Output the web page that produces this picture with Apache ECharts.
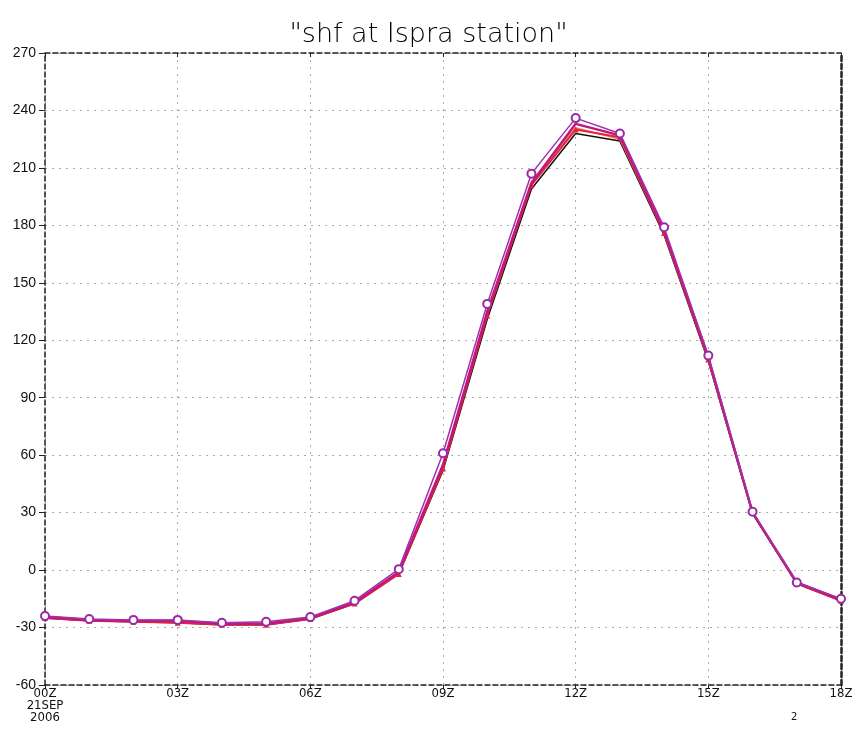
<!DOCTYPE html>
<html>
<head>
<meta charset="utf-8">
<script src="https://cdn.jsdelivr.net/npm/echarts@6/dist/echarts.min.js"></script>
<style>
  html, body { margin: 0; padding: 0; background: #fff; }
  #chart { width: 857px; height: 736px; }
</style>
</head>
<body>
<div id="chart"></div>
<script>
// Hourly sensible heat flux at Ispra, 21 SEP 2006 (00Z-18Z)
const hours = [0, 1, 2, 3, 4, 5, 6, 7, 8, 9, 10, 11, 12, 13, 14, 15, 16, 17, 18];
const tickLabels = ['00Z\n21SEP\n2006', '03Z', '06Z', '09Z', '12Z', '15Z', '18Z'];

const shfBlack   = [-25, -26.5, -27, -27.5, -28.5, -28.5, -25.5, -17.5, -2, 52, 131, 199, 228, 224, 175, 109, 29.5, -7, -16];
const shfOrange  = [-24.5, -26, -26.5, -27, -28, -28, -25, -17, -1.5, 54, 134, 203, 231, 225, 176, 110, 30, -6.5, -15.5];
const shfRed     = [-25, -26.5, -27, -27.5, -28.5, -28.5, -25.5, -17.5, -2, 53, 133, 201, 230, 226, 176, 110, 30, -7, -16];
const shfMagenta = [-24.5, -26, -26.5, -26.5, -28, -28, -25, -17, -1, 55, 135, 202, 233, 227, 177, 111, 30, -6.5, -15.5];
const shfPurple  = [-24, -25.5, -26, -26, -27.5, -27, -24.5, -16, 0.5, 61, 139, 207, 236, 228, 179, 112, 30.5, -6.5, -15];

const pairs = arr => hours.map((h, i) => [h, arr[i]]);

const chart = echarts.init(document.getElementById('chart'));
const narrowFont = '"Liberation Sans Narrow", "DejaVu Sans Condensed", "Liberation Sans", sans-serif';
const frame = (w) => ({ show: true, onZero: false, lineStyle: { color: '#222', width: w, type: [5, 3] } });
const gridDots = { show: true, lineStyle: { color: '#aaa', type: [2, 5] } };

chart.setOption({
  animation: false,
  backgroundColor: '#fff',
  title: {
    text: '"shf at Ispra station"',
    left: 'center',
    top: 16,
    textStyle: { fontFamily: '"DejaVu Sans", sans-serif', fontWeight: 'lighter', fontSize: 27, color: '#000' }
  },
  grid: { left: 45, right: 16, top: 53, bottom: 51 },
  xAxis: [{
    type: 'value', min: 0, max: 18, interval: 3, position: 'bottom',
    axisLine: frame(1.5),
    axisTick: { show: true, length: 4, lineStyle: { color: '#222' } },
    axisLabel: {
      color: '#111', fontSize: 13, fontFamily: narrowFont, margin: 3, lineHeight: 12,
      formatter: v => tickLabels[v / 3]
    },
    splitLine: gridDots
  }, {
    type: 'value', min: 0, max: 18, interval: 3, position: 'top',
    axisLine: frame(1.5),
    axisTick: { show: true, inside: true, length: 4, lineStyle: { color: '#222' } },
    axisLabel: { show: false }, splitLine: { show: false }
  }],
  yAxis: [{
    type: 'value', min: -60, max: 270, interval: 30, position: 'left',
    axisLine: frame(1.5),
    axisTick: { show: true, length: 6, lineStyle: { color: '#222' } },
    axisLabel: { color: '#111', fontSize: 14, fontFamily: '"Liberation Sans", sans-serif', margin: 9 },
    splitLine: gridDots
  }, {
    type: 'value', min: -60, max: 270, interval: 30, position: 'right',
    axisLine: frame(2.5),
    axisTick: { show: false }, axisLabel: { show: false }, splitLine: { show: false }
  }],
  series: [
    { type: 'line', data: pairs(shfBlack), symbol: 'none', lineStyle: { color: '#111', width: 1.5 }, z: 2 },
    { type: 'line', data: pairs(shfOrange), symbol: 'none', lineStyle: { color: '#f08a5a', width: 1.5 }, z: 3 },
    { type: 'line', data: pairs(shfRed), symbol: 'triangle', symbolSize: 6, showSymbol: true,
      itemStyle: { color: '#e8203a' }, lineStyle: { color: '#e8203a', width: 2 }, z: 4 },
    { type: 'line', data: pairs(shfMagenta), symbol: 'none', lineStyle: { color: '#c0187a', width: 2.5 }, z: 5 },
    { type: 'line', data: pairs(shfPurple), symbol: 'emptyCircle', symbolSize: 8, showSymbol: true,
      itemStyle: { color: '#9a2aa8', borderWidth: 1.5 }, lineStyle: { color: '#a030b0', width: 1.5 }, z: 6 }
  ],
  graphic: [{
    type: 'text', left: 791, top: 712,
    style: { text: '2', fontSize: 11, fill: '#111', fontFamily: narrowFont }
  }]
});
</script>
</body>
</html>
